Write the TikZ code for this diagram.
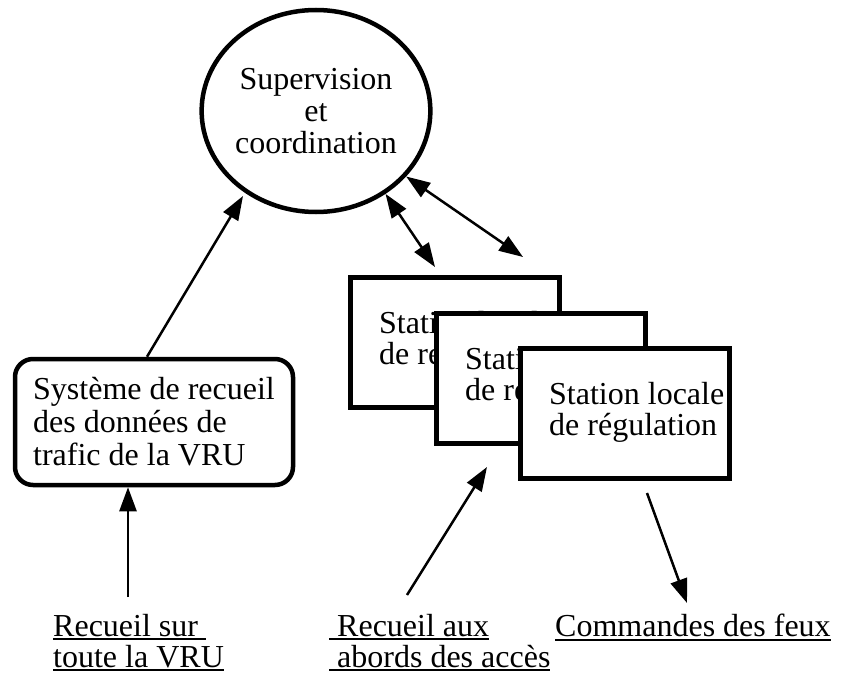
\documentclass[tikz,border=0pt]{standalone}
\usepackage{fontspec}
\setmainfont{Liberation Serif}
\usetikzlibrary{arrows.meta,shapes.geometric}

% underline drawn as a rule of fixed weight
\newcommand\ulin[1]{\setbox0\hbox{#1}\rlap{\rule[-4pt]{\wd0}{2pt}}\box0}

\tikzset{
  every node/.style={font=\fontsize{32}{33}\selectfont},
  heavy/.style={line width=4.5pt},
  arr/.style={line width=2.5pt, -{Triangle[length=24pt,width=17pt]}},
  darr/.style={line width=2.5pt, {Triangle[length=24pt,width=17pt]}-{Triangle[length=24pt,width=17pt]}},
  hub/.style={ellipse, draw, heavy, minimum width=192pt, minimum height=202pt,
              inner sep=0pt, align=center, font=\fontsize{32}{32}\selectfont},
  collect/.style={draw, heavy, rounded corners=18pt, minimum width=278pt,
                  minimum height=126pt, align=left, inner sep=0pt},
  station/.style={draw, heavy, fill=white, minimum width=209pt,
                  minimum height=130pt, anchor=north west},
  stationtext/.style={anchor=west, align=left, inner sep=0pt,
                      font=\fontsize{32}{31}\selectfont},
  foot/.style={anchor=north west, align=left, inner sep=0pt,
               font=\fontsize{32}{31}\selectfont}
}

\begin{document}
\begin{tikzpicture}[x=1pt,y=-1pt]
\useasboundingbox (0,0) rectangle (859,679);

% central supervision
\node[hub] (sup) at (316,111) {Supervision\\et\\coordination};

% traffic data collection system
\node[collect] (sys) at (154,422) {Système de recueil\\des données de\\trafic de la VRU};

% stacked local control stations, each one hiding part of the previous one
\node[station] (stA) at (348,275) {};
\node[stationtext] (txA) at ([xshift=31pt,yshift=1pt]stA.west) {Station locale\\de régulation};
\node[station] (stB) at (434,311) {};
\node[stationtext] (txB) at ([xshift=31pt,yshift=1pt]stB.west) {Station locale\\de régulation};
\node[station] (stC) at (518,346) {};
\node[stationtext] (txC) at ([xshift=31pt,yshift=1pt]stC.west) {Station locale\\de régulation};

% inputs and outputs
\node[foot] (inVRU) at (53,614) {\ulin{Recueil sur\ }\\\ulin{toute la VRU}};
\node[foot] (inAcc) at (329,614) {\ulin{\hphantom{\ }Recueil aux}\\\ulin{\ abords des accès}};
\node[foot] (outFeux) at (555,614) {\ulin{Commandes des feux}};

% connector end points
\coordinate (tipL) at (243,196);
\coordinate (pA) at (435,267);
\coordinate (pB) at (523,257);
\coordinate (srcL) at (128,597);
\coordinate (srcM) at (407,595);
\coordinate (tipM) at (487,467);
\coordinate (outR) at (647,493);
\coordinate (tipR) at (687,603);

% connectors
\draw[arr] ([xshift=-7pt]sys.north) -- (tipL);
\draw[darr] (sup.310) -- (pA);
\draw[darr] (sup.324) -- (pB);
\draw[arr] (srcL) -- (sys.south -| srcL);
\draw[arr] (srcM) -- (tipM);
\draw[arr] (outR) -- (tipR);
\end{tikzpicture}
\end{document}
